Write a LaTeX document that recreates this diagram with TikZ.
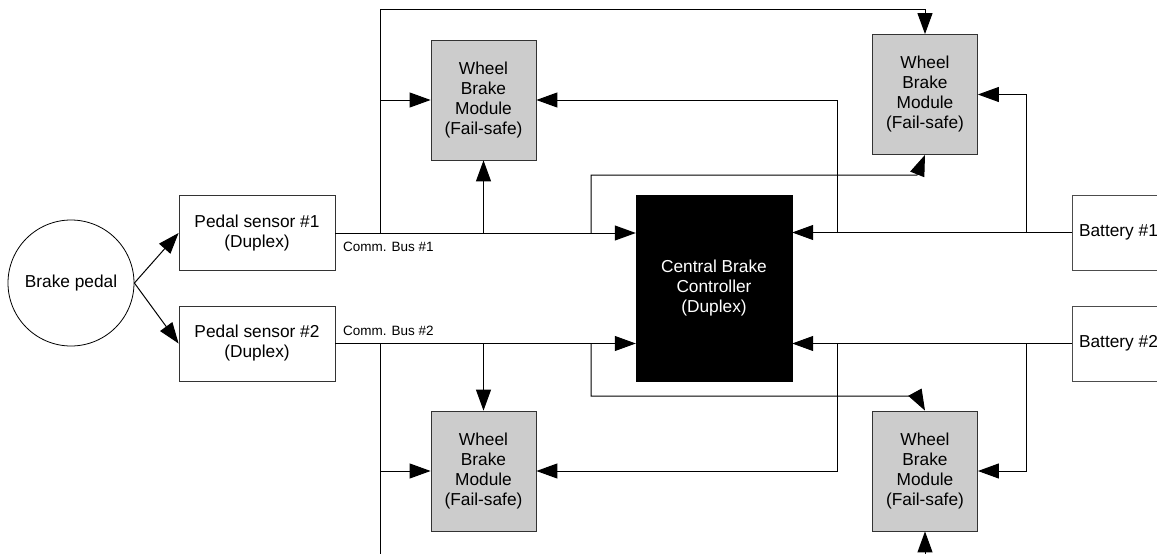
\documentclass[tikz,border=0pt]{standalone}
\usepackage{fontspec}
\setmainfont{Liberation Sans}
\usetikzlibrary{arrows.meta,calc}
\begin{document}
\begin{tikzpicture}[x=1pt,y=-1pt,
  every node/.style={font=\fontsize{17.3}{20}\selectfont, align=center, inner sep=0pt},
  box/.style={draw=black!80, line width=0.8pt, minimum width=156pt, minimum height=75pt},
  wheel/.style={draw=black!80, line width=0.8pt, fill=black!20, minimum width=105pt, minimum height=120pt},
  ctrl/.style={draw=black, fill=black, text=white, minimum width=156pt, minimum height=186pt},
  batt/.style={draw=black!70, line width=0.8pt, minimum width=93pt, minimum height=75pt},
  wire/.style={line width=1pt},
  arr/.style={wire, -{Triangle[length=21pt,width=15pt]}},
  buslabel/.style={font=\fontsize{13.5}{15}\selectfont, anchor=west}]
\useasboundingbox (0,0) rectangle (1157,554);
\clip (0,0) rectangle (1157,554);

% components
\node[circle, draw, line width=0.8pt, minimum size=126pt] (pedal) at (71,283) {Brake pedal};
\node[box] (ps1) at (257,233) {Pedal sensor \#1\\(Duplex)};
\node[box] (ps2) at (257,343.5) {Pedal sensor \#2\\(Duplex)};
\node[ctrl] (cbc) at (714,288) {Central Brake\\Controller\\(Duplex)};
\node[wheel] (wbm1) at (483.5,100) {Wheel\\Brake\\Module\\(Fail-safe)};
\node[wheel] (wbm2) at (925,94.5) {Wheel\\Brake\\Module\\(Fail-safe)};
\node[wheel] (wbm3) at (483.5,471) {Wheel\\Brake\\Module\\(Fail-safe)};
\node[wheel] (wbm4) at (925,471) {Wheel\\Brake\\Module\\(Fail-safe)};
\node[batt] (bat1) at (1118.5,232.5) {Battery \#1};
\node[batt] (bat2) at (1118.5,343.5) {Battery \#2};

\node[buslabel] (bus1) at (343,247) {Comm. Bus \#1};
\node[buslabel] (bus2) at (343,330.5) {Comm. Bus \#2};

% tap points on the buses and power lines
\coordinate (t1) at (380,233);
\coordinate (t2) at (483.5,233);
\coordinate (t3) at (591,233);
\coordinate (r1) at (837,233);
\coordinate (r2) at (1026,233);
\coordinate (s1) at (380,343.5);
\coordinate (s2) at (483.5,343.5);
\coordinate (s3) at (591,343.5);
\coordinate (q1) at (837,343.5);
\coordinate (q2) at (1026,343.5);
\coordinate (topL) at (380,9.5);
\coordinate (botL) at (380,566);
\coordinate (loop1) at (917,175);
\coordinate (loop2) at (917,396);

% pedal to sensors
\draw[arr] (pedal.east) -- (ps1.west);
\draw[arr] (pedal.east) -- (ps2.west);

% communication bus 1
\draw[arr] (ps1.east) -- (ps1.east -| cbc.west);
\draw[arr] (t1) -- (topL) -| (wbm2.north);
\draw[arr] (t1 |- wbm1.west) -- (wbm1.west);
\draw[arr] (t2) -- (wbm1.south);
\draw[arr] (t3) |- (loop1) -- (wbm2.south);

% communication bus 2
\draw[arr] (ps2.east) -- (ps2.east -| cbc.west);
\draw[arr] (s1) -- (botL) -| (wbm4.south);
\draw[arr] (s1 |- wbm3.west) -- (wbm3.west);
\draw[arr] (s2) -- (wbm3.north);
\draw[arr] (s3) |- (loop2) -- (wbm4.north);

% battery 1 supply
\draw[arr] (bat1.west) -- (bat1.west -| cbc.east);
\draw[arr] (r1) |- (wbm1.east);
\draw[arr] (r2) |- (wbm2.east);

% battery 2 supply
\draw[arr] (bat2.west) -- (bat2.west -| cbc.east);
\draw[arr] (q1) |- (wbm3.east);
\draw[arr] (q2) |- (wbm4.east);
\end{tikzpicture}
\end{document}
